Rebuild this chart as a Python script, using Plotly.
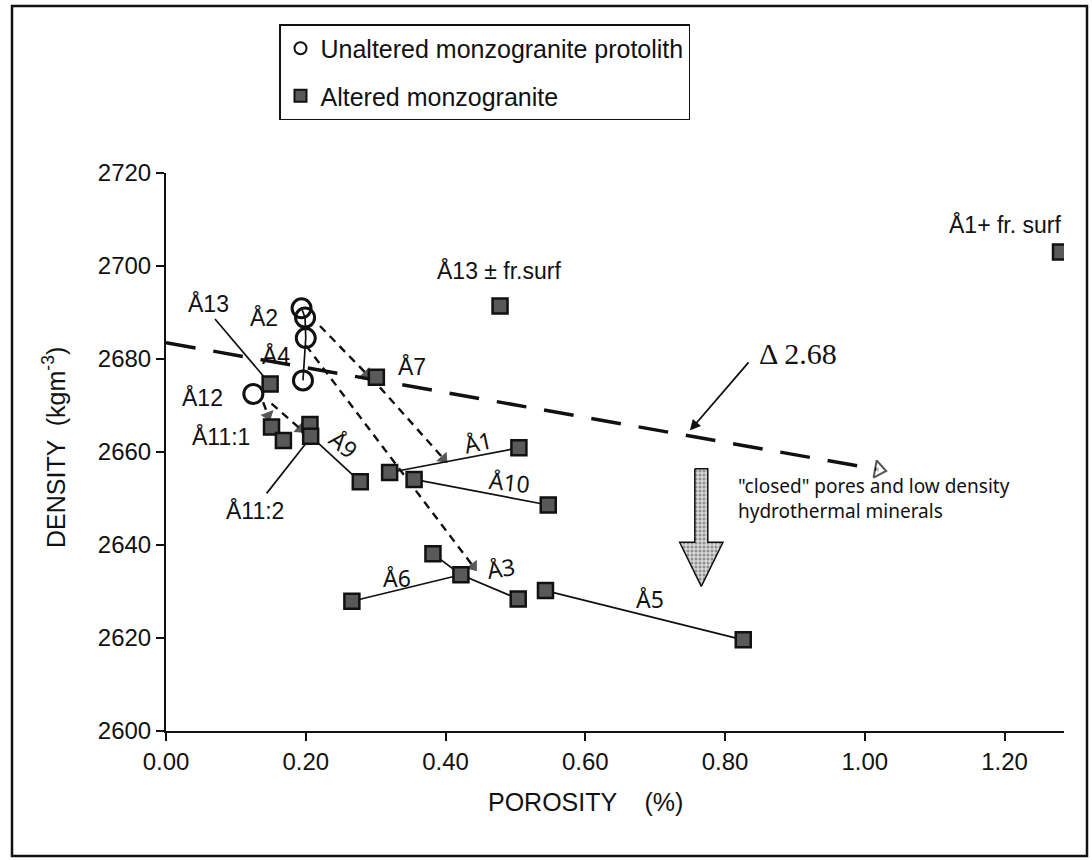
import plotly.graph_objects as go

# ---------------- data ----------------
unaltered_porosity = [0.194, 0.199, 0.200, 0.196, 0.125]
unaltered_density = [2690.9, 2688.9, 2684.5, 2675.4, 2672.5]

altered_ids = ["A13", "A7", "A13fr", "A11_1a", "A11_1b", "A9a", "A9b", "A9e",
               "A1s", "A1e", "A10s", "A10e", "A6s", "A3a", "A3b", "A3e",
               "A5s", "A5e", "A1fr"]
altered_porosity = [0.149, 0.301, 0.478, 0.151, 0.168, 0.206, 0.207, 0.278,
                    0.320, 0.505, 0.355, 0.547, 0.266, 0.382, 0.422, 0.504,
                    0.543, 0.826, 1.280]
altered_density = [2674.6, 2676.1, 2691.4, 2665.4, 2662.5, 2665.9, 2663.4, 2653.6,
                   2655.6, 2660.9, 2654.1, 2648.6, 2627.9, 2638.1, 2633.6, 2628.4,
                   2630.2, 2619.6, 2703.0]

tie_lines = [["A9b", "A9e"], ["A1s", "A1e"], ["A10s", "A10e"], ["A6s", "A3b"],
             ["A3a", "A3b", "A3e"], ["A5s", "A5e"]]

label_text = ["Å13", "Å2", "Å4", "Å7", "Å12", "Å11:1", "Å11:2", "Å9", "Å1", "Å10",
              "Å6", "Å3", "Å5", "Å13 ± fr.surf", "Å1+ fr. surf"]
label_porosity = [0.0605, 0.140, 0.158, 0.352, 0.052, 0.078, 0.128, 0.254, 0.447, 0.491,
                  0.331, 0.480, 0.693, 0.476, 1.200]
label_density = [2692.0, 2689.0, 2680.8, 2678.3, 2671.8, 2663.4, 2647.5, 2661.8, 2662.2, 2653.6,
                  2632.8, 2635.1, 2628.4, 2699.0, 2709.0]
label_angle = [0, 0, 0, 0, 0, 0, 0, 40, -12, 6, 0, -8, 0, 0, 0]
label_hand = [False, False, False, False, False, False, False, True, True, True,
              True, True, True, False, False]

# leader lines (label -> sample)
leader_porosity = [[0.0701, 0.144], [0.144, 0.199]]
leader_density = [[2688.6, 2675.5], [2651.1, 2661.6]]

# dashed alteration paths (protolith -> altered)
path_porosity = [[0.2203, 0.287], [0.306, 0.397], [0.2003, 0.4396], [0.139, 0.146], [0.151, 0.192]]
path_density = [[2687.1, 2676.8], [2673.9, 2658.6], [2682.9, 2635.4], [2670.7, 2667.9], [2670.4, 2665.0]]

# 2.68 reference trend
trend_porosity = [0.0, 1.02]
trend_density = [2683.5, 2656.2]

x_ticks = [0.0, 0.2, 0.4, 0.6, 0.8, 1.0, 1.2]
y_ticks = [2600, 2620, 2640, 2660, 2680, 2700, 2720]

# ---------------- layout geometry ----------------
W, H = 1092, 860
L, R, T, B = 166, 28, 173, 129
PW, PH = W - L - R, H - T - B


def px_x(p):
    return (p - L) / PW


def px_y(p):
    return (H - B - p) / PH


BLACK = "#111111"
SANS = "Liberation Sans, Arial, sans-serif"
HAND = "Noto Sans, Open Sans, sans-serif"

fig = go.Figure()

# tie lines between samples
idx = {k: i for i, k in enumerate(altered_ids)}
tx, ty = [], []
for seg in tie_lines:
    for k in seg:
        tx.append(altered_porosity[idx[k]])
        ty.append(altered_density[idx[k]])
    tx.append(None)
    ty.append(None)
for lx, ly in zip(leader_porosity, leader_density):
    tx += lx + [None]
    ty += ly + [None]
# line through protolith replicates
tx += unaltered_porosity[:4] + [None]
ty += unaltered_density[:4] + [None]
fig.add_trace(go.Scatter(x=tx, y=ty, mode="lines", line=dict(color=BLACK, width=1.7),
                         showlegend=False, hoverinfo="skip"))

# dashed alteration arrows
for px_, py_ in zip(path_porosity, path_density):
    fig.add_trace(go.Scatter(
        x=px_, y=py_, mode="lines+markers",
        line=dict(color=BLACK, width=2.4, dash="8px,6px"),
        marker=dict(symbol="triangle-up", size=[0, 12], color=BLACK, angleref="previous",
                    line=dict(width=0)),
        showlegend=False, hoverinfo="skip"))

# 2.68 trend line with open arrow head
fig.add_trace(go.Scatter(
    x=trend_porosity, y=trend_density, mode="lines+markers",
    line=dict(color=BLACK, width=3.5, dash="30px,18px"),
    marker=dict(symbol="triangle-up", size=[0, 15], color="white", angleref="previous",
                line=dict(color=BLACK, width=2)),
    showlegend=False, hoverinfo="skip"))

# block arrow (closed pores)
ac, sw, hw = 0.766, 0.0093, 0.031
ay_top, ay_base, ay_tip = 2656.4, 2640.6, 2631.1
fig.add_trace(go.Scatter(
    x=[ac - sw, ac + sw, ac + sw, ac + hw, ac, ac - hw, ac - sw, ac - sw],
    y=[ay_top, ay_top, ay_base, ay_base, ay_tip, ay_base, ay_base, ay_top],
    mode="lines", fill="toself", fillcolor="#bdbdbd",
    fillpattern=dict(shape=".", size=4, solidity=0.45, fgcolor="#444444", bgcolor="#d9d9d9"),
    line=dict(color=BLACK, width=1.5), showlegend=False, hoverinfo="skip"))

# samples
fig.add_trace(go.Scatter(
    x=unaltered_porosity, y=unaltered_density, mode="markers",
    name="Unaltered monzogranite protolith", legendgroup="a",
    marker=dict(symbol="circle-open", size=19, color=BLACK, line=dict(width=3, color=BLACK))))
fig.add_trace(go.Scatter(
    x=altered_porosity, y=altered_density, mode="markers",
    name="Altered monzogranite", legendgroup="b",
    marker=dict(symbol="square", size=15, color="#595959", line=dict(width=2.5, color=BLACK))))

annotations = []
for t, x, y, a, hand in zip(label_text, label_porosity, label_density, label_angle, label_hand):
    annotations.append(dict(x=x, y=y, text=t, showarrow=False, textangle=a,
                            font=dict(family=HAND if hand else SANS, size=23, color=BLACK)))

annotations += [
    dict(x=0.7496, y=2664.6, ax=0.8355, ay=2679.6, axref="x", ayref="y", text="",
         showarrow=True, arrowhead=2, arrowsize=1.2, arrowwidth=1.8, arrowcolor=BLACK),
    dict(x=0.845, y=2681.2, text="Δ 2.68", showarrow=False, xanchor="left",
         font=dict(family="Liberation Serif, Times New Roman, serif", size=30, color=BLACK)),
    dict(x=0.815, y=2650.0, text="\"closed\" pores and low density<br>hydrothermal minerals",
         showarrow=False, xanchor="left", align="left",
         font=dict(family=HAND, size=19, color=BLACK)),
    dict(xref="paper", yref="paper", x=px_x(36), y=px_y(448), text="DENSITY  (kgm<sup>-3</sup>)",
         showarrow=False, textangle=-90, font=dict(family=SANS, size=25, color=BLACK)),
    dict(xref="paper", yref="paper", x=px_x(585), y=px_y(818), text="POROSITY    (%)",
         showarrow=False, font=dict(family=SANS, size=25, color=BLACK)),
]

fig.update_layout(
    width=W, height=H, margin=dict(l=L, r=R, t=T, b=B),
    paper_bgcolor="white", plot_bgcolor="white",
    font=dict(family=SANS, color=BLACK),
    xaxis=dict(range=[0, 1.285], tickvals=x_ticks, tickformat=".2f", showgrid=False,
               zeroline=False, showline=True, linecolor=BLACK, linewidth=2,
               ticks="outside", ticklen=8, tickwidth=1.5, tickcolor=BLACK,
               tickfont=dict(size=24, family=SANS)),
    yaxis=dict(range=[2600, 2720], tickvals=y_ticks, showgrid=False, zeroline=False,
               showline=True, linecolor=BLACK, linewidth=2,
               ticks="outside", ticklen=8, tickwidth=1.5, tickcolor=BLACK,
               tickfont=dict(size=24, family=SANS)),
    legend=dict(x=px_x(279), y=px_y(24), xanchor="left", yanchor="top",
                bordercolor=BLACK, borderwidth=1.5, bgcolor="white",
                font=dict(size=25, family=SANS, color=BLACK), tracegroupgap=12,
                itemsizing="constant"),
    annotations=annotations,
    shapes=[dict(type="rect", xref="paper", yref="paper",
                 x0=px_x(12), x1=px_x(1087), y0=px_y(856), y1=px_y(6),
                 line=dict(color=BLACK, width=2.5))],
    showlegend=True,
)

fig.write_html("out.html")
